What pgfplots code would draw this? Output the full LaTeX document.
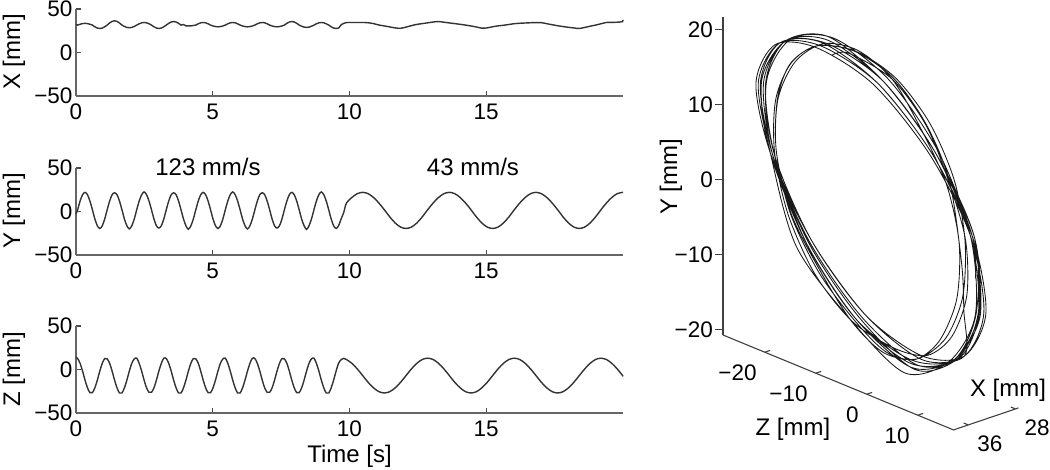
\documentclass[border=0pt]{standalone}
\usepackage{fontspec}
\setmainfont{Liberation Sans}
\usepackage{pgfplots}
\pgfplotsset{compat=1.18}
\usepackage{pgfplotstable}
\usetikzlibrary{calc}

\newcommand\fst{\fontsize{22.5}{26}\selectfont}
\newcommand\fsl{\fontsize{24}{28}\selectfont}

\pgfplotstableread{
t X Y Z
0.00 32.2 -3 14
0.06 31.5 2 12.6
0.15 32.5 12 7.1
0.24 33.2 19.3 -1.8
0.33 33.5 22 -12.2
0.42 33.2 19.3 -21.1
0.51 32.5 12 -26.6
0.60 31.5 2 -26.6
0.69 29.55 -8.6 -21.1
0.78 28.1 -16.4 -12.2
0.87 27.6 -19.5 -1.8
0.96 28.1 -16.4 7.1
1.05 29.55 -8.6 12.6
1.14 31.5 2 12.2
1.23 33.95 12 7.1
1.32 35.74 19.3 -1.8
1.41 36.4 21.5 -12.2
1.50 35.74 19.3 -21.1
1.59 33.95 12 -27
1.68 31.5 2 -27
1.77 29.95 -8.6 -21.1
1.86 28.82 -16.4 -12.2
1.95 28.4 -20 -1.8
2.04 28.82 -16.4 7.1
2.13 29.95 -8.6 12.2
2.22 31.5 2 13
2.31 33 12 7.1
2.40 34.1 19.3 -1.8
2.49 34.5 22.5 -12.2
2.58 34.1 19.3 -21.1
2.67 33 12 -26.2
2.76 31.5 2 -26.2
2.85 29.55 -8.6 -21.1
2.94 28.1 -16.4 -12.2
3.03 27.6 -19 -1.8
3.12 28.1 -16.4 7.1
3.21 29.55 -8.6 13
3.30 31.5 2 12.6
3.39 33.55 12 7.1
3.48 35.05 19.3 -1.8
3.57 35.6 21.5 -12.2
3.66 35.05 19.3 -21.1
3.75 33.55 12 -27
3.84 31.5 2 -27
3.93 32.2 -8.6 -21.1
4.02 30.6 -16.4 -12.2
4.11 30.5 -20.5 -1.8
4.20 30.6 -16.4 7.1
4.29 31 -8.6 12.6
4.38 31.5 2 12.2
4.47 33 12 7.1
4.56 34.1 19.3 -1.8
4.65 34.5 22 -12.2
4.74 34.1 19.3 -21.1
4.83 33 12 -26.6
4.92 31.5 2 -26.6
5.01 30.5 -8.6 -21.1
5.10 29.8 -16.4 -12.2
5.19 29.5 -19.5 -1.8
5.28 29.8 -16.4 7.1
5.37 30.5 -8.6 12.2
5.46 31.5 2 13
5.55 33 12 7.1
5.64 34.1 19.3 -1.8
5.73 34.5 22.5 -12.2
5.82 34.1 19.3 -21.1
5.91 33 12 -27
6.00 31.5 2 -27
6.09 30.5 -8.6 -21.1
6.18 29.8 -16.4 -12.2
6.27 29.5 -20 -1.8
6.36 29.8 -16.4 7.1
6.45 30.5 -8.6 13
6.54 31.5 2 12.6
6.63 33 12 7.1
6.72 34.1 19.3 -1.8
6.81 34.5 21.5 -12.2
6.90 34.1 19.3 -21.1
6.99 33 12 -26.2
7.08 31.5 2 -26.2
7.17 30.5 -8.6 -21.1
7.26 29.8 -16.4 -12.2
7.35 29.5 -19 -1.8
7.44 29.8 -16.4 7.1
7.53 30.5 -8.6 12.6
7.62 31.5 2 12.2
7.71 33.55 12 7.1
7.80 35.05 19.3 -1.8
7.89 35.6 22 -12.2
7.98 35.05 19.3 -21.1
8.07 33.55 12 -26.6
8.16 31.5 2 -26.6
8.25 30.15 -8.6 -21.1
8.34 29.2 -16.4 -12.2
8.43 28.8 -20.5 -1.8
8.52 29.2 -16.4 7.1
8.61 30.15 -8.6 12.2
8.70 31.5 2 13
8.79 33 12 7.1
8.88 34.1 19.3 -1.8
8.97 34.5 22.5 -12.2
9.06 34.1 19.3 -21.1
9.15 33 12 -27
9.24 31.5 2 -27
9.33 29.55 -8.6 -21.1
9.42 28.1 -16.4 -12.2
9.51 27.6 -19.5 -1.8
9.60 28.1 -16.4 7.1
9.70 32 -8 11.5
9.79 33.5 -1 12.8
9.888 34.4 9.7 11.5
10.086 34.5 16.1 7.1
10.284 34.5 20.5 0.7
10.482 34.5 22 -7
10.68 34.2 20.5 -14.7
10.878 33.2 16.1 -21.1
11.076 31.6 9.7 -25.5
11.274 30.5 2 -27
11.472 29.4 -6.2 -25.5
11.67 28.3 -13.2 -21.1
11.868 27.8 -17.9 -14.7
12.066 29.2 -19.5 -7
12.264 30.9 -17.9 0.7
12.462 32.3 -13.2 7.1
12.66 33.2 -6.2 11.5
12.858 34.1 2 13
13.056 35 9.7 11.5
13.254 35.6 16.1 7.1
13.452 34.8 20.5 0.7
13.65 34 22 -7
13.848 33.2 20.5 -14.7
14.046 32.4 16.1 -21.1
14.244 31.5 9.7 -25.5
14.442 30.5 2 -27
14.64 29.3 -6.2 -25.5
14.838 28 -13.2 -21.1
15.036 28.3 -17.9 -14.7
15.234 29.6 -19.5 -7
15.432 30.6 -17.9 0.7
15.63 31.3 -13.2 7.1
15.828 32.2 -6.2 11.5
16.026 33.1 2 13
16.224 33.6 9.7 11.5
16.422 33.9 16.1 7.1
16.62 34.2 20.5 0.7
16.818 34.4 22 -7
17.016 34.3 20.5 -14.7
17.214 33.1 16.1 -21.1
17.412 31.9 9.7 -25.5
17.61 30.8 2 -27
17.808 29.8 -6.2 -25.5
18.006 29 -13.2 -21.1
18.204 28.2 -17.9 -14.7
18.402 27.6 -19.5 -7
18.6 28.8 -17.9 0.7
18.798 30.2 -13.2 7.1
18.996 31.5 -6.2 11.5
19.194 33 2 13
19.392 34.5 9.7 11.5
19.59 34.6 16.1 7.1
19.788 34.8 20.5 0.7
19.986 35.5 22 -7
20.0 37.5 22 -8
}\motion

\pgfplotsset{
  panel/.style={
    scale only axis, width=547pt, height=87pt,
    xmin=0, xmax=20, ymin=-50, ymax=50,
    axis lines*=left,
    axis line style={draw=black!60, line width=2pt},
    tick align=inside,
    major tick length=5pt,
    major tick style={draw=black!70, line width=1.2pt},
    xtick={0,5,10,15}, xticklabels={0,5,10,15},
    ytick={-50,0,50}, yticklabels={−50,0,50},
    tick label style={font=\fst},
    xticklabel style={yshift=-4pt},
    clip=false,
  },
  trace/.style={black!80, line width=1.4pt, mark=none, smooth},
  p3d/.style={
    hide axis, clip=false,
    x={(5.1pt,-2.1pt)}, y={(-5.9pt,-2.0pt)}, z={(0pt,7.5pt)},
    xmin=-28.2, xmax=17, ymin=27.5, ymax=38.5, zmin=-20.7, zmax=21.7,
  },
}
\tikzset{ax3/.style={draw=black!75, line width=1.1pt}}

\begin{document}
\begin{tikzpicture}
\useasboundingbox (0pt,0pt) rectangle (1050pt,-470pt);

% ghost axis to measure the 3D corner
\begin{axis}[p3d, name=ghost]
  \addplot3[draw=none, mark=none] coordinates {(0,30,0)};
  \coordinate (gc) at (axis cs:-28.2,38.5,-20.7);
\end{axis}

% 3D trajectory
\begin{axis}[p3d, at={($(723pt,-335pt)-(gc)+(ghost.south west)$)}, anchor=south west]
  \addplot3[black!90, line width=0.85pt, mark=none, smooth] table[x=Z, y=X, z=Y]{\motion};
  \draw[ax3] (axis cs:-28.2,38.5,-20.7) -- (axis cs:-28.2,38.5,21.7);
  \draw[ax3] (axis cs:-28.2,38.5,-20.7) -- (axis cs:17,38.5,-20.7) -- (axis cs:17,27.5,-20.7);
  % Y ticks
  \draw[ax3] (axis cs:-28.2,38.5,-20) -- ++(-8pt,0pt);
  \draw[ax3] (axis cs:-28.2,38.5,-10) -- ++(-8pt,0pt);
  \draw[ax3] (axis cs:-28.2,38.5,0) -- ++(-8pt,0pt);
  \draw[ax3] (axis cs:-28.2,38.5,10) -- ++(-8pt,0pt);
  \draw[ax3] (axis cs:-28.2,38.5,20) -- ++(-8pt,0pt);
  \node[anchor=east, inner sep=0pt, xshift=-10pt, font=\fst] at (axis cs:-28.2,38.5,-20) {−20};
  \node[anchor=east, inner sep=0pt, xshift=-10pt, font=\fst] at (axis cs:-28.2,38.5,-10) {−10};
  \node[anchor=east, inner sep=0pt, xshift=-10pt, font=\fst] at (axis cs:-28.2,38.5,0) {0};
  \node[anchor=east, inner sep=0pt, xshift=-10pt, font=\fst] at (axis cs:-28.2,38.5,10) {10};
  \node[anchor=east, inner sep=0pt, xshift=-10pt, font=\fst] at (axis cs:-28.2,38.5,20) {20};
  % Z ticks
  \draw[ax3] (axis cs:-20,38.5,-20.7) -- (axis cs:-20,37.6,-20.7);
  \draw[ax3] (axis cs:-10,38.5,-20.7) -- (axis cs:-10,37.6,-20.7);
  \draw[ax3] (axis cs:0,38.5,-20.7) -- (axis cs:0,37.6,-20.7);
  \draw[ax3] (axis cs:10,38.5,-20.7) -- (axis cs:10,37.6,-20.7);
  \node[anchor=north east, inner sep=0pt, xshift=-8pt, yshift=-12pt, font=\fst] at (axis cs:-20,38.5,-20.7) {−20};
  \node[anchor=north east, inner sep=0pt, xshift=-8pt, yshift=-12pt, font=\fst] at (axis cs:-10,38.5,-20.7) {−10};
  \node[anchor=north east, inner sep=0pt, xshift=-8pt, yshift=-12pt, font=\fst] at (axis cs:0,38.5,-20.7) {0};
  \node[anchor=north east, inner sep=0pt, xshift=-8pt, yshift=-12pt, font=\fst] at (axis cs:10,38.5,-20.7) {10};
  % X ticks
  \draw[ax3] (axis cs:17,36,-20.7) -- (axis cs:16.1,36,-20.7);
  \draw[ax3] (axis cs:17,28,-20.7) -- (axis cs:16.1,28,-20.7);
  \node[anchor=north west, inner sep=0pt, xshift=9pt, yshift=-11pt, font=\fst] at (axis cs:17,36,-20.7) {36};
  \node[anchor=north west, inner sep=0pt, xshift=9pt, yshift=-11pt, font=\fst] at (axis cs:17,28,-20.7) {28};
\end{axis}

% left time series
\begin{axis}[panel, at={(76pt,-96pt)}, anchor=south west]
  \addplot[trace] table[x=t, y=X]{\motion};
\end{axis}
\begin{axis}[panel, at={(76pt,-255pt)}, anchor=south west]
  \addplot[trace] table[x=t, y=Y]{\motion};
\end{axis}
\begin{axis}[panel, at={(76pt,-413pt)}, anchor=south west]
  \addplot[trace] table[x=t, y=Z]{\motion};
\end{axis}

% labels
\node[rotate=90, font=\fsl] at (14pt,-52pt) {X [mm]};
\node[rotate=90, font=\fsl] at (14pt,-211pt) {Y [mm]};
\node[rotate=90, font=\fsl] at (14pt,-369pt) {Z [mm]};
\node[font=\fsl] at (349.5pt,-456pt) {Time [s]};
\node[font=\fsl] at (208pt,-167pt) {123 mm/s};
\node[font=\fsl] at (473pt,-167pt) {43 mm/s};
\node[rotate=90, font=\fsl] at (671pt,-177pt) {Y [mm]};
\node[font=\fsl] at (793pt,-429pt) {Z [mm]};
\node[font=\fsl] at (1008pt,-390pt) {X [mm]};
\end{tikzpicture}
\end{document}
